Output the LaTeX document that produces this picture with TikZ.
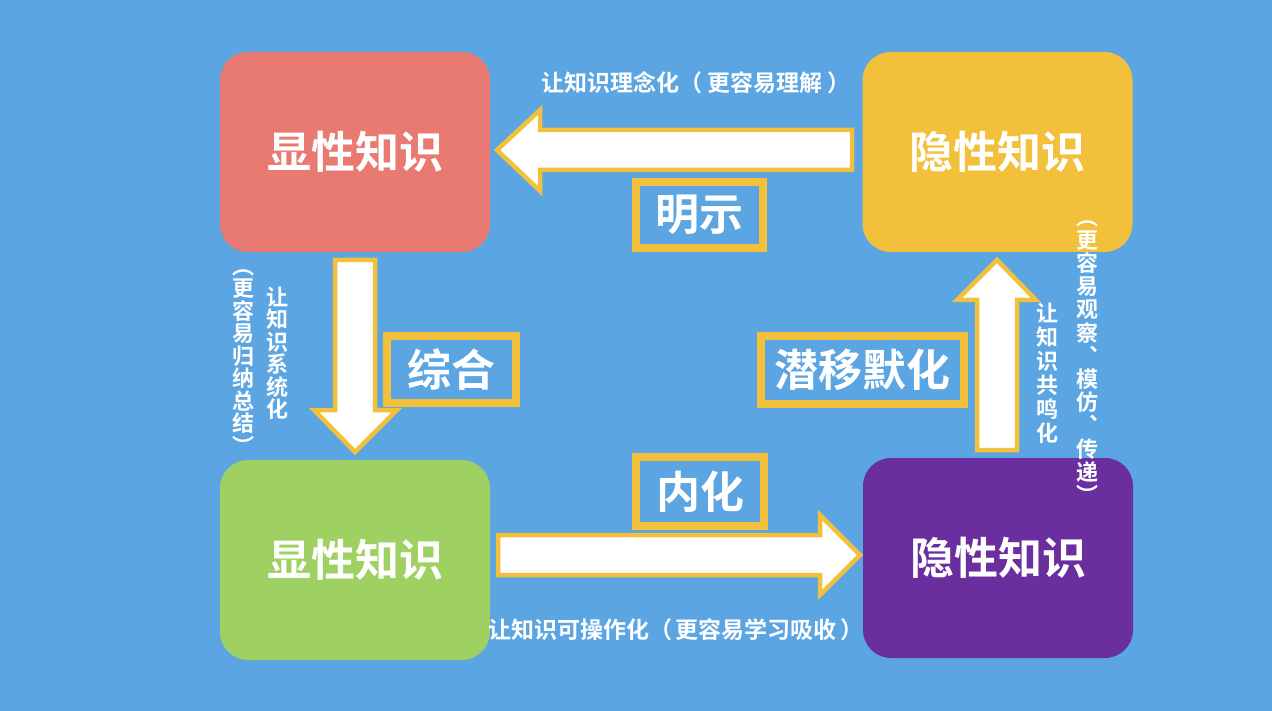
\documentclass[tikz,border=0pt]{standalone}
\usepackage{fontspec}
\newfontfamily\cjk{Noto Sans CJK SC}[BoldFont={Noto Sans CJK SC Bold}]
\definecolor{bg}{HTML}{5AA5E2}
\definecolor{kred}{HTML}{E87A72}
\definecolor{kyel}{HTML}{F2C03A}
\definecolor{kgrn}{HTML}{9ED162}
\definecolor{kpur}{HTML}{6B2E9E}
\begin{document}
\begin{tikzpicture}[x=1pt,y=-1pt,
  kbox/.style={rounded corners=28pt, minimum width=270pt, minimum height=200pt, inner sep=0pt, text=white, font=\cjk\bfseries\fontsize{44}{50}\selectfont},
  lbox/.style={draw=kyel, line width=8pt, fill=bg, inner sep=0pt, text=white, font=\cjk\bfseries\fontsize{44}{50}\selectfont},
  barrow/.style={draw=kyel, line width=4.5pt, fill=white, line join=miter},
  note/.style={text=white, font=\cjk\bfseries\fontsize{23}{25}\selectfont, inner sep=0pt},
  vnote/.style={text=white, align=center, font=\cjk\bfseries\fontsize{22}{22.5}\selectfont, inner sep=0pt}]
\fill[bg] (0,0) rectangle (1272,711);
\useasboundingbox (0,0) rectangle (1272,711);
% knowledge boxes
\node[kbox, fill=kred] (e1) at (355,152) {显性知识};
\node[kbox, fill=kyel] (t1) at (997.5,152) {隐性知识};
\node[kbox, fill=kgrn] (e2) at (355,560) {显性知识};
\node[kbox, fill=kpur] (t2) at (998,558) {隐性知识};
% block arrows
\draw[barrow] (852,130) -- (540,130) -- (540,110) -- (497,150) -- (540,191) -- (540,170) -- (852,170) -- cycle;
\draw[barrow] (498,535) -- (820,535) -- (820,515) -- (860,555) -- (820,595) -- (820,575) -- (498,575) -- cycle;
\draw[barrow] (335,260) -- (375,260) -- (375,410) -- (397,410) -- (355,452) -- (314,410) -- (335,410) -- cycle;
\draw[barrow] (977,450) -- (977,300) -- (957,300) -- (997,260) -- (1036,300) -- (1017,300) -- (1017,450) -- cycle;
% label boxes
\node[lbox, minimum width=127pt, minimum height=66pt] (l1) at (699.5,215) {明示};
\node[lbox, minimum width=128pt, minimum height=69pt] (l2) at (700,491.5) {内化};
\node[lbox, minimum width=129pt, minimum height=67pt] (l3) at (451.5,369.5) {综合};
\node[lbox, minimum width=203pt, minimum height=68pt] (l4) at (862.5,370) {潜移默化};
% notes
\node[note] (n1) at (696,83) {让知识理念化（\hspace{5pt}更容易理解\hspace{5pt}）};
\node[note] (n2) at (676,630) {让知识可操作化（\hspace{4pt}更容易学习吸收\hspace{4pt}）};
\node[vnote] (n3) at (277,353) {让\\知\\识\\系\\统\\化};
\node[vnote] (n4) at (243,362) {︵\\更\\容\\易\\归\\纳\\总\\结\\︶};
\node[vnote, font=\cjk\bfseries\fontsize{22}{24}\selectfont] (n5) at (1047,373) {让\\知\\识\\共\\鸣\\化};
\node[vnote, font=\cjk\bfseries\fontsize{22}{23.2}\selectfont] (n6) at (1087,362) {︵\\更\\容\\易\\观\\察\\︑\\模\\仿\\︑\\传\\递\\︶};
\end{tikzpicture}
\end{document}
